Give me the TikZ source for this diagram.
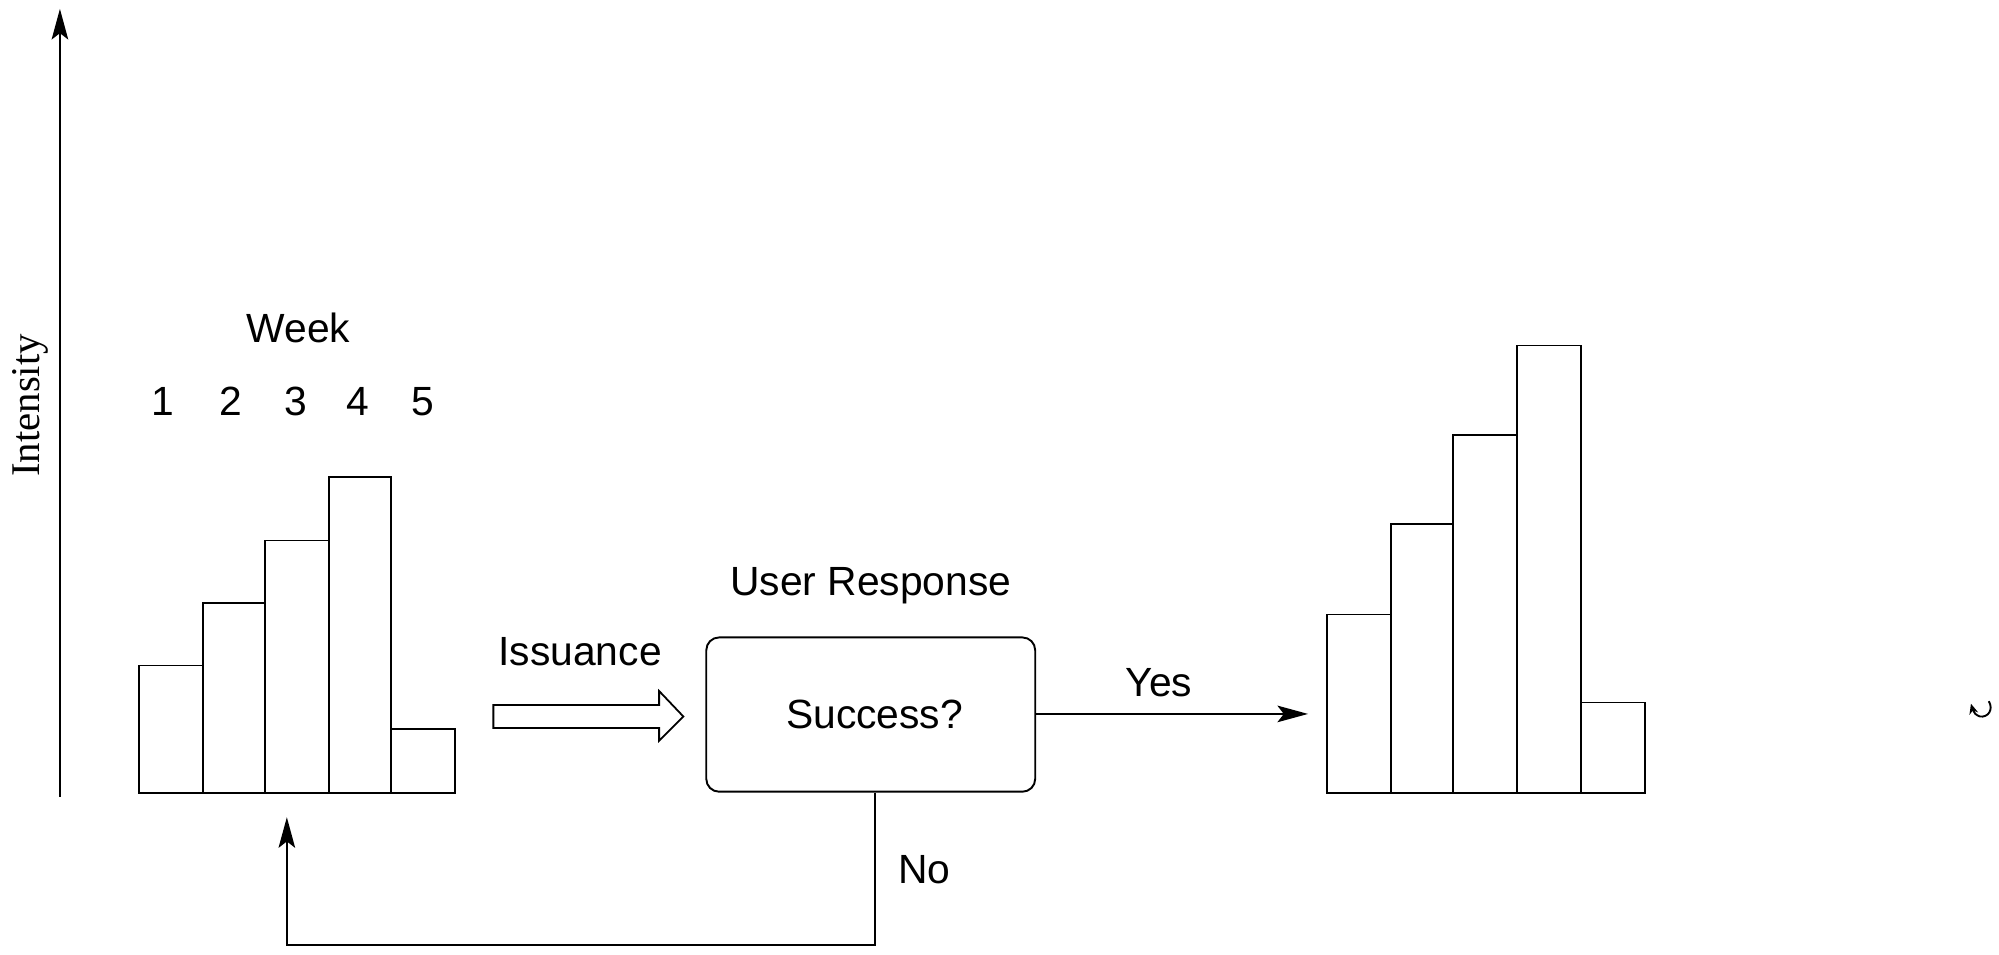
\documentclass[tikz,border=0pt]{standalone}
\usepackage{fontspec}
\setmainfont{Liberation Sans}
\newfontfamily\serifone{Liberation Serif}
\usetikzlibrary{arrows.meta}
\begin{document}
\begin{tikzpicture}[x=1pt,y=-1pt,
  line width=1.5pt,
  lbl/.style={font=\fontsize{32}{36}\selectfont, inner sep=0pt, anchor=base},
  bar/.style={draw=black, line width=1.4pt},
  tip/.style={-{Stealth[length=24pt,width=13pt,inset=5pt]}},
  decision/.style={draw, rounded corners=10pt, minimum width=258pt, minimum height=121pt, inner sep=0pt, font=\fontsize{32}{36}\selectfont}
]
\useasboundingbox (0,0) rectangle (1568,749);

% axis
\coordinate (axbot) at (47,625);
\coordinate (axtop) at (47,7);
\draw[tip] (axbot) -- (axtop);
\node[lbl, font=\serifone\fontsize{32}{36}\selectfont, rotate=90] (intensity) at (31,318) {Intensity};

% left histogram
\draw[bar] (109,622) rectangle (159,522);
\draw[bar] (159,622) rectangle (208,473);
\draw[bar] (208,622) rectangle (258,424);
\draw[bar] (258,622) rectangle (307,374);
\draw[bar] (307,622) rectangle (357,572);

\node[lbl] (week) at (234,269) {Week};
\node[lbl] (w1) at (128,326) {1};
\node[lbl] (w2) at (181,326) {2};
\node[lbl] (w3) at (232,326) {3};
\node[lbl] (w4) at (281,326) {4};
\node[lbl] (w5) at (332,326) {5};

% issuance hollow arrow
\draw[line width=1.4pt, fill=white] (387,553) -- (517,553) -- (517,542) -- (536,562) -- (517,581) -- (517,571) -- (387,571) -- cycle;
\node[lbl] (issuance) at (455,522) {Issuance};

% decision box
\node[decision] (box) at (683,560.5) {\hspace{6pt}Success?};
\node[lbl] (resp) at (683,467) {User Response};

% yes
\coordinate (yesend) at (1026,560);
\draw[tip] (box.east |- yesend) -- (yesend);
\node[lbl] (yes) at (909,546) {Yes};

% right histogram
\draw[bar] (1041,622) rectangle (1091,482);
\draw[bar] (1091,622) rectangle (1140,411);
\draw[bar] (1140,622) rectangle (1190,341);
\draw[bar] (1190,622) rectangle (1240,271);
\draw[bar] (1240,622) rectangle (1290,551);

% no loop
\coordinate (noend) at (225,641);
\coordinate (nocorner1) at (686,741);
\coordinate (nocorner2) at (225,741);
\draw[tip] (box.south -| nocorner1) -- (nocorner1) -- (nocorner2) -- (noend);
\node[lbl] (no) at (725,693) {No};

% small curled arrow mark
\coordinate (c1) at (1560,550);
\coordinate (c2) at (1546,552);
\draw[line width=1.5pt, -{Stealth[length=8pt,width=7pt]}] (c1) .. controls (1564,557) and (1559,563) .. (1553,562) .. controls (1550,561) and (1548,559) .. (c2);
\end{tikzpicture}
\end{document}
